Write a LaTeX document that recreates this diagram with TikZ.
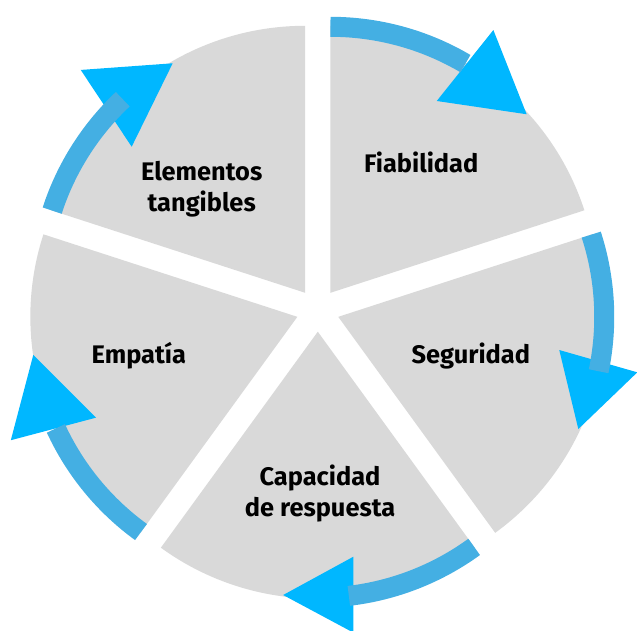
\documentclass[tikz,border=0pt]{standalone}
\usepackage{fontspec}
\setmainfont{Fira Sans}
\usetikzlibrary{calc}
\definecolor{slicegray}{HTML}{D9D9D9}
\definecolor{arcblue}{HTML}{44AFE3}
\definecolor{tipblue}{HTML}{00B7FF}
\begin{document}
\begin{tikzpicture}[x=1pt,y=1pt,
  slice/.style={fill=slicegray},
  cyclearc/.style={draw=arcblue, line width=20pt},
  arrowtip/.style={fill=tipblue},
  slicetext/.style={font=\fontsize{25.4}{31}\selectfont\bfseries, align=center,
    anchor=base, inner sep=0pt, text=black}]
\useasboundingbox (0,0) rectangle (637,631);
\coordinate (C) at (317.8,320.8);

% five exploded pie slices, each pushed out along its bisector
\foreach \name/\b in {fia/54, seg/-18, cap/-90, emp/-162, ele/126}{
  \coordinate (\name) at ($(C)+(\b:21.5)$);
  \fill[slice] (\name) -- ++(\b+36:267)
    arc[start angle=\b+36, end angle=\b-36, radius=267] -- cycle;
}

% arrowheads: two base corners and the tip, in polar form about each apex
\fill[arrowtip] ($(fia)+(58.2:309.2)$) -- ($(fia)+(61.0:219.3)$) -- ($(fia)+(42.3:265.3)$) -- cycle;
\fill[arrowtip] ($(seg)+(-8.54:223.5)$) -- ($(seg)+(-10.51:304.2)$) -- ($(seg)+(-25.05:265)$) -- cycle;
\fill[arrowtip] ($(cap)+(-81.0:227.8)$) -- ($(cap)+(-83.27:303)$) -- ($(cap)+(-97.5:265.6)$) -- cycle;
\fill[arrowtip] ($(emp)+(206.6:225.2)$) -- ($(emp)+(203.3:312)$) -- ($(emp)+(188.2:266.8)$) -- cycle;
\fill[arrowtip] ($(ele)+(135.2:316.3)$) -- ($(ele)+(139.9:226.8)$) -- ($(ele)+(120.0:265)$) -- cycle;

% clockwise arcs along the rim of each slice
\foreach \name/\s/\e in {fia/90/59.5, seg/18/-11.8, cap/-54/-83.3, emp/-126/-155.2, ele/162/133.3}{
  \draw[cyclearc] (\name) ++(\s:266) arc[start angle=\s, end angle=\e, radius=266];
}

% slice captions (two-line captions are placed by their last baseline)
\node[slicetext] (tfia) at (421.3,458.7) {Fiabilidad};
\node[slicetext] (tele) at (201.7,419.3) {Elementos\\tangibles};
\node[slicetext] (temp) at (138.8,267) {Empatía};
\node[slicetext] (tseg) at (470.8,267) {Seguridad};
\node[slicetext] (tcap) at (320,114.3) {Capacidad\\de respuesta};
\end{tikzpicture}
\end{document}
